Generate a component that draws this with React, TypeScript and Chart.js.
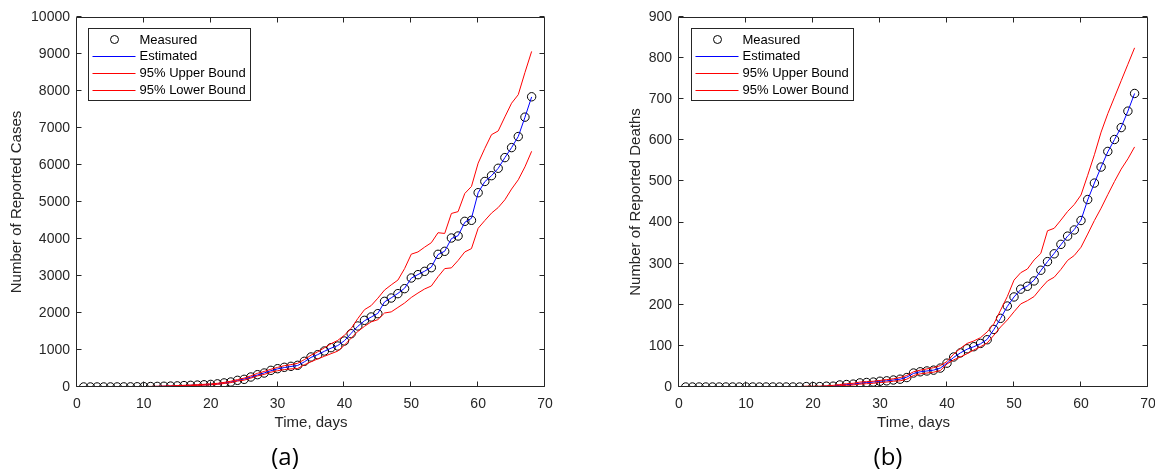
import React, { useEffect, useRef } from "react";
import { Chart, registerables } from "chart.js";
Chart.register(...registerables);

const days = [1,2,3,4,5,6,7,8,9,10,11,12,13,14,15,16,17,18,19,20,21,22,23,24,25,26,27,28,29,30,31,32,33,34,35,36,37,38,39,40,41,42,43,44,45,46,47,48,49,50,51,52,53,54,55,56,57,58,59,60,61,62,63,64,65,66,67,68];

const casesMeasured = [1,1,1,1,2,2,3,4,6,8,12,16,20,25,30,38,45,52,60,70,85,110,135,180,207,270,333,378,450,495,532,559,586,694,811,874,973,1063,1108,1243,1441,1649,1802,1892,1982,2315,2405,2523,2658,2946,3036,3126,3225,3586,3667,4027,4081,4477,4505,5252,5555,5712,5911,6200,6470,6769,7293,7844];
const casesEstimated = [1,1,1,1,2,2,3,4,6,8,12,16,20,25,30,37,45,52,60,70,84,108,135,175,215,265,325,380,440,490,525,555,580,680,800,875,965,1050,1120,1250,1450,1640,1790,1890,1990,2300,2410,2530,2670,2940,3040,3130,3240,3580,3670,4010,4090,4450,4560,5250,5550,5710,5910,6200,6470,6770,7290,7840];
const casesUpper = [3,3,3,3,4,5,6,7,9,12,16,21,26,32,38,46,54,63,72,84,100,125,155,200,240,300,370,420,480,530,575,605,640,740,860,950,1060,1170,1260,1400,1580,1850,2090,2200,2400,2620,2760,2890,3200,3590,3650,3780,3900,4170,4150,4690,4740,5230,5420,6050,6450,6820,6920,7300,7670,7900,8500,9070];
const casesLower = [0,0,0,0,1,1,2,3,4,6,9,12,15,19,24,30,37,43,50,58,72,95,118,160,185,240,300,340,400,440,470,490,500,600,680,760,830,900,970,1130,1320,1500,1640,1760,1820,2000,2030,2150,2270,2420,2540,2650,2730,2980,3200,3220,3420,3650,3740,4290,4500,4700,4850,5060,5350,5600,5950,6370];

const deathsMeasured = [0,0,0,0,0,0,0,0,0,0,0,0,0,0,0,0,0,0,1,1,1,2,2,5,6,7,10,11,12,14,15,17,19,23,34,37,39,41,46,58,73,83,93,98,106,115,140,167,197,219,238,245,258,284,305,324,347,367,382,405,456,496,535,573,602,631,671,714];
const deathsEstimated = [0,0,0,0,0,0,0,0,0,0,0,0,0,0,0,0,0,0,1,1,1,2,2,4,6,7,9,11,12,14,15,17,19,24,33,37,39,41,46,58,72,83,92,98,105,116,140,167,196,219,237,246,260,283,305,325,346,367,383,406,455,496,535,572,602,632,671,714];
const deathsUpper = [1,1,1,1,1,1,1,1,1,1,1,1,1,1,1,1,1,1,2,2,2,3,4,6,8,9,12,13,14,16,18,20,23,28,37,41,44,47,52,62,80,94,106,112,120,134,154,187,220,260,278,287,309,325,380,386,406,427,444,467,515,565,620,665,705,745,785,825];
const deathsLower = [0,0,0,0,0,0,0,0,0,0,0,0,0,0,0,0,0,0,0,0,0,1,1,3,4,5,7,8,9,11,12,14,15,19,28,32,34,36,40,56,66,73,81,90,98,107,126,146,163,183,202,210,220,240,258,267,286,308,320,340,372,405,435,468,500,530,555,584];

const xTicks = [0,10,20,30,40,50,60,70];
const casesYTicks = [0,1000,2000,3000,4000,5000,6000,7000,8000,9000,10000];
const deathsYTicks = [0,100,200,300,400,500,600,700,800,900];
const legendLabels = ["Measured","Estimated","95% Upper Bound","95% Lower Bound"];

const AXIS = "#262626";
const FONT = "'Liberation Sans', Arial, sans-serif";

const boxPlugin = {
  id: "matlabBox",
  afterDraw(chart: any, _args: any, opts: any) {
    const { ctx, chartArea: a, scales } = chart;
    ctx.save();
    ctx.strokeStyle = AXIS;
    ctx.lineWidth = 1;
    const L = Math.round(a.left) - 0.5, R = Math.round(a.right) - 0.5;
    const T = Math.round(a.top) + 0.5, B = Math.round(a.bottom) - 0.5;
    ctx.beginPath();
    ctx.rect(L, T, R - L, B - T);
    ctx.stroke();
    const tl = 5;
    ctx.beginPath();
    for (const v of opts.xTicks) {
      const px = Math.round(scales.x.getPixelForValue(v)) - 0.5;
      ctx.moveTo(px, B); ctx.lineTo(px, B - tl);
      ctx.moveTo(px, T); ctx.lineTo(px, T + tl);
    }
    for (const v of opts.yTicks) {
      const py = Math.round(scales.y.getPixelForValue(v)) - 0.5;
      ctx.moveTo(L, py); ctx.lineTo(L + tl, py);
      ctx.moveTo(R, py); ctx.lineTo(R - tl, py);
    }
    ctx.stroke();

    // legend
    const bx = Math.round(a.left + opts.legendDx) + 0.5;
    const by = 28.5;
    const bw = 162, bh = 72;
    ctx.fillStyle = "#ffffff";
    ctx.fillRect(bx, by, bw, bh);
    ctx.strokeStyle = AXIS;
    ctx.strokeRect(bx, by, bw, bh);
    ctx.font = "13px " + FONT;
    ctx.textBaseline = "middle";
    ctx.textAlign = "left";
    const ds = chart.data.datasets;
    for (let i = 0; i < ds.length; i++) {
      const cy = by + 11 + i * 16.8;
      if (i === 0) {
        ctx.beginPath();
        ctx.strokeStyle = "#000";
        ctx.arc(bx + 26, cy, 4, 0, Math.PI * 2);
        ctx.stroke();
      } else {
        ctx.beginPath();
        ctx.strokeStyle = ds[i].borderColor;
        ctx.moveTo(bx + 4, Math.round(cy) + 0.5);
        ctx.lineTo(bx + 47, Math.round(cy) + 0.5);
        ctx.stroke();
      }
      ctx.fillStyle = "#000";
      ctx.fillText(ds[i].label, bx + 51, cy + 0.5);
    }
    ctx.restore();
  },
};

function makeConfig(p: {
  measured: number[]; estimated: number[]; upper: number[]; lower: number[];
  yTicks: number[]; yTitle: string; yAxisWidth: number; yTitlePad: number;
  rightPad: number; legendDx: number;
}) {
  const pts = (arr: number[]) => days.map((d, i) => ({ x: d, y: arr[i] }));
  return {
    type: "line",
    data: {
      datasets: [
        {
          label: legendLabels[0], data: pts(p.measured), showLine: false,
          pointRadius: 4.2, pointBorderWidth: 1, pointBorderColor: "#000000",
          pointBackgroundColor: "rgba(0,0,0,0)", borderColor: "#000000", order: 4,
        },
        { label: legendLabels[1], data: pts(p.estimated), borderColor: "#0000ff", borderWidth: 1, pointRadius: 0, order: 3 },
        { label: legendLabels[2], data: pts(p.upper), borderColor: "#ff0000", borderWidth: 1, pointRadius: 0, order: 2 },
        { label: legendLabels[3], data: pts(p.lower), borderColor: "#ff0000", borderWidth: 1, pointRadius: 0, order: 1 },
      ],
    },
    options: {
      animation: false,
      responsive: false,
      maintainAspectRatio: false,
      layout: { padding: { top: 17, right: p.rightPad, left: 0, bottom: 0 } },
      plugins: {
        legend: { display: false },
        tooltip: { enabled: false },
        title: { display: false },
        matlabBox: { xTicks, yTicks: p.yTicks, legendDx: p.legendDx },
      },
      scales: {
        x: {
          type: "linear", min: 0, max: 70,
          grid: { display: false, drawTicks: false }, border: { display: false },
          afterBuildTicks: (s: any) => { s.ticks = xTicks.map((v) => ({ value: v })); },
          afterFit: (s: any) => { s.height = 82; s.paddingLeft = 0; s.paddingRight = 0; },
          ticks: { color: AXIS, font: { family: FONT, size: 14 }, padding: 9, maxRotation: 0, autoSkip: false, callback: (v: any) => String(v) },
          title: { display: true, text: "Time, days", color: AXIS, font: { family: FONT, size: 15 }, padding: { top: 0, bottom: 37 } },
        },
        y: {
          type: "linear", min: 0, max: p.yTicks[p.yTicks.length - 1],
          grid: { display: false, drawTicks: false }, border: { display: false },
          afterBuildTicks: (s: any) => { s.ticks = p.yTicks.map((v) => ({ value: v })); },
          afterFit: (s: any) => { s.width = p.yAxisWidth; s.paddingTop = 0; s.paddingBottom = 0; },
          ticks: { color: AXIS, font: { family: FONT, size: 14 }, padding: 7, autoSkip: false, callback: (v: any) => String(v) },
          title: { display: true, text: p.yTitle, color: AXIS, font: { family: FONT, size: 15 }, padding: { top: p.yTitlePad, bottom: 0 } },
        },
      },
    },
    plugins: [boxPlugin],
  } as any;
}

function Panel(props: { cfg: any; left: number; width: number }) {
  const ref = useRef<HTMLCanvasElement | null>(null);
  useEffect(() => {
    const c = new Chart(ref.current as HTMLCanvasElement, props.cfg);
    return () => c.destroy();
  }, []);
  return (
    <canvas
      ref={ref}
      width={props.width}
      height={469}
      style={{ position: "absolute", left: props.left, top: 0, width: props.width, height: 469 }}
    />
  );
}

const casesCfg = makeConfig({
  measured: casesMeasured, estimated: casesEstimated, upper: casesUpper, lower: casesLower,
  yTicks: casesYTicks, yTitle: "Number of Reported Cases", yAxisWidth: 77, yTitlePad: 8,
  rightPad: 32, legendDx: 11,
});
const deathsCfg = makeConfig({
  measured: deathsMeasured, estimated: deathsEstimated, upper: deathsUpper, lower: deathsLower,
  yTicks: deathsYTicks, yTitle: "Number of Reported Deaths", yAxisWidth: 102, yTitlePad: 50,
  rightPad: 7, legendDx: 12,
});

const captionStyle: React.CSSProperties = {
  position: "absolute", top: 440, width: 200, textAlign: "center",
  font: "24px 'Open Sans', sans-serif", lineHeight: "32px", color: "#000",
};

export default function App() {
  return (
    <div style={{ position: "fixed", left: 0, top: 0, width: 1155, height: 469, background: "#fff", overflow: "hidden" }}>
      <Panel cfg={casesCfg} left={0} width={577} />
      <Panel cfg={deathsCfg} left={577} width={578} />
      <div style={{ ...captionStyle, left: 185 }}>(a)</div>
      <div style={{ ...captionStyle, left: 788 }}>(b)</div>
    </div>
  );
}
